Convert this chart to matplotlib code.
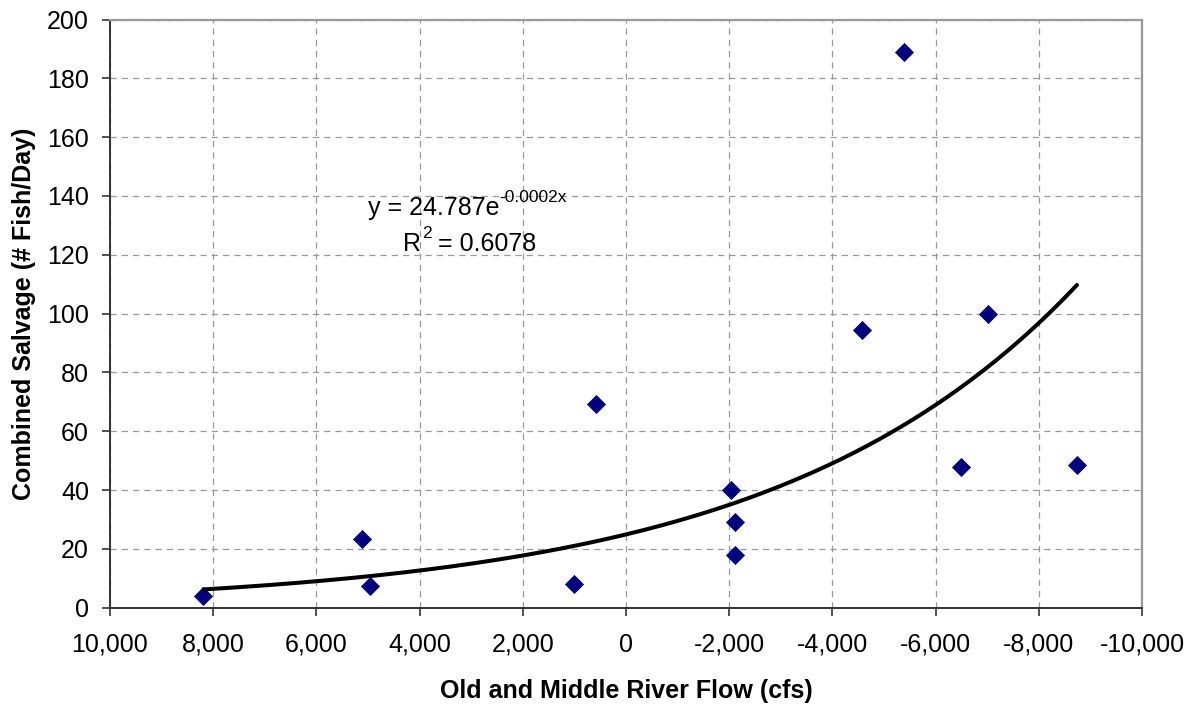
import numpy as np
import matplotlib
matplotlib.use("Agg")
import matplotlib.pyplot as plt
from matplotlib.ticker import FuncFormatter, MultipleLocator

plt.rcParams['font.family'] = ['Liberation Sans', 'DejaVu Sans']

# flow (cfs) and combined salvage (fish/day)
flow = np.array([8190, 5110, 4955, 1000, 580, -2030, -2120, -2120,
                 -4580, -5380, -6485, -7015, -8740])
salvage = np.array([4.0, 23.3, 7.4, 8.0, 69.3, 40.0, 29.3, 18.0,
                    94.5, 188.8, 48.0, 100.0, 48.6])

eq_base, eq_sup = "y = 24.787e", "-0.0002x"
r2_base, r2_sup, r2_rest = "R", "2", "= 0.6078"

# exponential trendline (least squares on log y), over the data range
b, ln_a = np.polyfit(flow, np.log(salvage), 1)
xt = np.linspace(flow.max(), flow.min(), 300)
yt = np.exp(ln_a) * np.exp(b * xt)

fig = plt.figure(figsize=(11.9, 7.04), dpi=100)
ax = fig.add_axes([0.0924, 0.1368, 0.8673, 0.8355])

ax.scatter(flow, salvage, marker='D', s=95, color='#000080', zorder=3, linewidths=0)
ax.plot(xt, yt, color='black', lw=2.9, zorder=4, solid_capstyle='round')

ax.set_xlim(10000, -10000)
ax.set_ylim(0, 200)
ax.xaxis.set_major_locator(MultipleLocator(2000))
ax.yaxis.set_major_locator(MultipleLocator(20))
ax.xaxis.set_major_formatter(FuncFormatter(lambda v, p: f"{int(round(v)):,}"))

ax.grid(True, color='#999999', linestyle=(0, (5, 4)), lw=0.9)
ax.set_axisbelow(True)

for s in ['left', 'bottom']:
    ax.spines[s].set_color('#333333')
    ax.spines[s].set_linewidth(1.4)
for s in ['top', 'right']:
    ax.spines[s].set_color('#999999')
    ax.spines[s].set_linewidth(1.6)

ax.tick_params(direction='out', length=6, width=1.2, color='#333333', labelsize=18)
ax.tick_params(axis='x', pad=12)
ax.tick_params(axis='y', pad=9)

ax.set_xlabel('Old and Middle River Flow (cfs)', fontsize=18, fontweight='bold', labelpad=16)
ax.set_ylabel('Combined Salvage (# Fish/Day)', fontsize=18, fontweight='bold', labelpad=8)

# trendline equation, superscripts drawn as smaller raised text
t1 = ax.text(5000, 133.6, eq_base, ha='left', va='baseline', fontsize=18)
ax.annotate(eq_sup, xy=(1, 0), xycoords=t1, xytext=(0, 13), textcoords='offset points',
            ha='left', va='baseline', fontsize=12.5)
t2 = ax.text(4320, 121.3, r2_base, ha='left', va='baseline', fontsize=18)
s2 = ax.annotate(r2_sup, xy=(1, 0), xycoords=t2, xytext=(0.5, 13), textcoords='offset points',
                 ha='left', va='baseline', fontsize=12.5)
ax.annotate(r2_rest, xy=(1, 0), xycoords=(s2, t2), xytext=(5, 0), textcoords='offset points',
            ha='left', va='bottom', fontsize=18)

fig.savefig('out.png', dpi=100, facecolor='white')
